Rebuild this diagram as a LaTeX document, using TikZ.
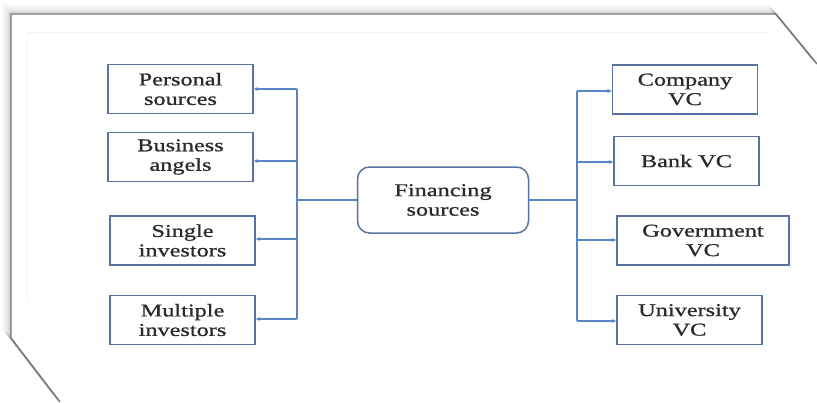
\documentclass[tikz,border=0pt]{standalone}
\usepackage{fontspec}
\setmainfont{Liberation Serif}[FakeStretch=1.35, FakeBold=0.9]
\usetikzlibrary{arrows.meta}
\definecolor{boxcol}{HTML}{5873A3}
\definecolor{linecol}{HTML}{5A86C6}
\definecolor{txtcol}{HTML}{2A2A2A}
\definecolor{framecol}{HTML}{767676}
\tikzset{
  box/.style={draw=boxcol, line width=1.5pt, minimum width=145pt, minimum height=49pt,
    inner sep=0pt, align=center, text=txtcol, font=\fontsize{18}{19.5}\selectfont},
  rbox/.style={box, rounded corners=12pt, minimum width=171pt, minimum height=66pt},
  conn/.style={draw=linecol, line width=1.2pt},
  arr/.style={conn, -{Stealth[length=4.5pt,width=4pt]}},
  framepath/.style={draw=framecol, line width=1.4pt, line join=miter},
}
\begin{document}
\begin{tikzpicture}[x=1pt,y=-1pt]
\useasboundingbox (0,0) rectangle (817,402);
\fill[white] (0,0) rectangle (817,402);
% frame with shadow
\foreach \k/\o in {9/0.04,8/0.05,7/0.06,6/0.08,5/0.1,4/0.13,3/0.17,2/0.23,1/0.32}{
  \draw[line width=1.4pt, gray, opacity=\o, shift={(-\k*0.9,-\k)}]
    (60,402) -- (11,338) -- (11,14) -- (776,14) -- (817,64);
}
\draw[framepath] (60,402) -- (11,338) -- (11,14) -- (776,14) -- (817,64);
\draw[gray!10, line width=0.8pt] (27,300) -- (27,32) -- (768,32);
% nodes
\node[box] (per) at (180.5,89) {Personal\\sources};
\node[box] (bus) at (180.5,157) {Business\\angels};
\node[box] (sin) at (182.5,240.5) {Single\\investors};
\node[box] (mul) at (182.5,320) {Multiple\\investors};
\node[rbox] (fin) at (443,200) {Financing\\sources};
\node[box] (com) at (685,89.5) {Company\\VC};
\node[box] (ban) at (686.5,161) {Bank VC};
\node[box, minimum width=172pt] (gov) at (703,240.5) {Government\\VC};
\node[box] (uni) at (689.5,320) {University\\VC};
% left tree
\coordinate (lj) at (297,200);
\coordinate (l1) at (297,89);
\coordinate (l2) at (297,161);
\coordinate (l3) at (297,239);
\coordinate (l4) at (297,319);
\draw[conn] (fin.west) -- (lj);
\draw[conn] (l1) -- (l4);
\draw[arr] (l1) -- (l1 -| per.east);
\draw[arr] (l2) -- (l2 -| bus.east);
\draw[arr] (l3) -- (l3 -| sin.east);
\draw[arr] (l4) -- (l4 -| mul.east);
% right tree
\coordinate (rj) at (577,200);
\coordinate (r1) at (577,91);
\coordinate (r2) at (577,162);
\coordinate (r3) at (577,240);
\coordinate (r4) at (577,321);
\draw[conn] (fin.east) -- (rj);
\draw[conn] (r1) -- (r4);
\draw[arr] (r1) -- (r1 -| com.west);
\draw[arr] (r2) -- (r2 -| ban.west);
\draw[arr] (r3) -- (r3 -| gov.west);
\draw[arr] (r4) -- (r4 -| uni.west);
\end{tikzpicture}
\end{document}
